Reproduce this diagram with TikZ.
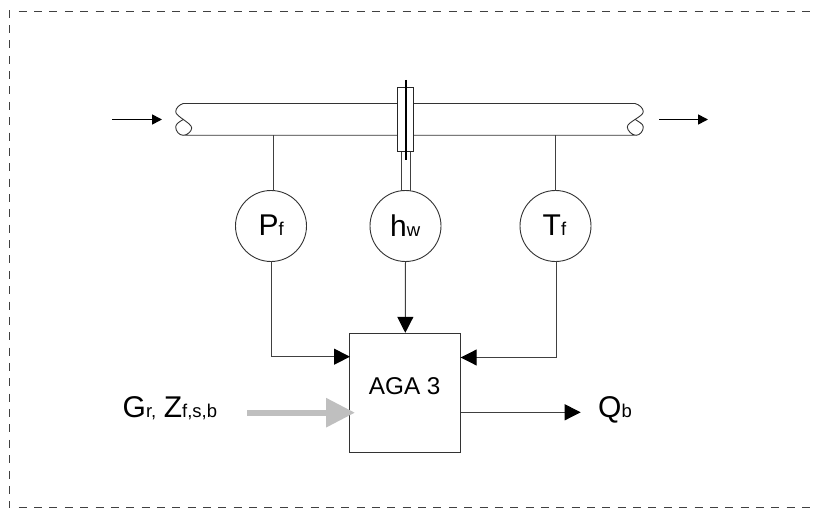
\documentclass[tikz,border=0pt]{standalone}
\usepackage{fontspec}
\setmainfont{Liberation Sans}
\usetikzlibrary{arrows.meta}
\tikzset{
  x=1pt,y=-1pt,
  thin line/.style={draw=black!75,line width=1pt},
  pipe line/.style={draw=black!80,line width=0.9pt,line join=round},
  frame line/.style={draw=black!75,line width=1pt,dash pattern=on 8pt off 7.36pt},
  gauge/.style={circle,draw=black!80,line width=0.9pt,minimum size=71pt,inner sep=0pt,fill=white},
  wire/.style={draw=black!75,line width=1pt,-{Triangle[length=16pt,width=16pt,color=black,fill=black]}},
  small wire/.style={draw=black,line width=1.7pt,-{Triangle[length=10pt,width=10pt]}},
  big/.style={font=\fontsize{30}{30}\selectfont,inner sep=0pt},
}
\newcommand{\subt}[1]{{\fontsize{18.5}{18.5}\selectfont #1}}
\begin{document}
\begin{tikzpicture}
\useasboundingbox (0,0) rectangle (815,508);
\clip (0,0) rectangle (815,508);
% dashed frame
\draw[frame line] (18.7,11.5) -- (830,11.5);
\draw[frame line] (18.7,507.3) -- (830,507.3);
\begin{scope}
\clip (0,11) rectangle (20,508);
\draw[frame line] (9.5,9.7) -- (9.5,520);
\end{scope}
% flow arrows
\coordinate (inA) at (112,119.5);
\coordinate (inB) at (162,119.5);
\coordinate (outA) at (659,119.5);
\coordinate (outB) at (708,119.5);
\draw[small wire] (inA) -- (inB);
\draw[small wire] (outA) -- (outB);
% pipe
\draw[pipe line]
  (183.3,103.5) -- (635,103.5)
  .. controls (639,104.5) and (643.3,108) .. (643.3,111.7)
  .. controls (643.3,116.5) and (627.3,122) .. (627.3,127)
  .. controls (627.3,130.5) and (632,135.3) .. (636,135.3)
  -- (183.3,135.3)
  .. controls (187,135.3) and (191.7,131.5) .. (191.7,128)
  .. controls (191.7,123) and (175.7,116.5) .. (175.7,111.7)
  .. controls (175.7,108) and (179.5,104.5) .. (183.3,103.5);
\draw[pipe line]
  (183.3,135.3) .. controls (179,135.3) and (175.7,131) .. (175.7,127)
  .. controls (175.7,124) and (179,122) .. (183.5,119.3);
\draw[pipe line]
  (636,135.3) .. controls (640,135.3) and (643.3,131) .. (643.3,127)
  .. controls (643.3,124) and (639,122) .. (635,119.3);
% gauges
\node[gauge] (P) at (271,226) {};
\node[gauge] (H) at (405.5,226) {};
\node[gauge] (T) at (555.5,226) {};
\node[big,anchor=base west] (Pt) at (258.5,236) {P\subt{f}};
\node[big,anchor=base west] (Ht) at (390,236.5) {h\subt{w}};
\node[big,anchor=base west] (Tt) at (542.5,236) {T\subt{f}};
% impulse lines
\coordinate (Ptop) at (273,135.3);
\coordinate (Ttop) at (555,135.3);
\draw[thin line] (Ptop) -- (273,190.7);
\draw[thin line] (Ttop) -- (555,190.7);
\draw[thin line] (401,151) -- (401,190.8);
\draw[thin line] (410,151) -- (410,190.8);
% orifice
\node[draw=black!85,line width=0.9pt,fill=white,minimum width=16pt,minimum height=63.7pt,inner sep=0pt] (orifice) at (405.3,119.2) {};
\coordinate (plateT) at (406,80);
\coordinate (plateB) at (406,160);
\draw[black,line width=1.7pt] (plateT) -- (plateB);
% block
\node[draw=black!80,line width=1pt,minimum width=110.7pt,minimum height=118.7pt,inner sep=0pt] (aga) at (405.3,392.7) {};
\node[font=\fontsize{24.3}{24.3}\selectfont,inner sep=0pt,anchor=base] (agat) at (404.7,394) {AGA 3};
% inputs
\coordinate (agaP) at (350,356.7);
\coordinate (agaT) at (460.7,357.5);
\draw[wire] (271,261.5) -- (271,356.7) -- (agaP);
\draw[wire] (556,261.5) -- (556,357.5) -- (agaT);
\draw[wire] (H.south) -- (aga.north);
\coordinate (agaOut) at (460.7,412.3);
\coordinate (Qtip) at (580.7,412.3);
\draw[wire] (agaOut) -- (Qtip);
% gray
\coordinate (grayA) at (247,412.7);
\coordinate (grayB) at (355,412.7);
\draw[draw=black!25,line width=6pt,-{Triangle[length=29pt,width=28pt]}] (grayA) -- (grayB);
% labels
\node[big,anchor=base west] (gr) at (122.5,417.5) {G\subt{r,}\hspace{7.5pt}Z\subt{f,s,b}};
\node[big,anchor=base west] (qb) at (598,417.5) {Q\subt{b}};
\end{tikzpicture}
\end{document}
